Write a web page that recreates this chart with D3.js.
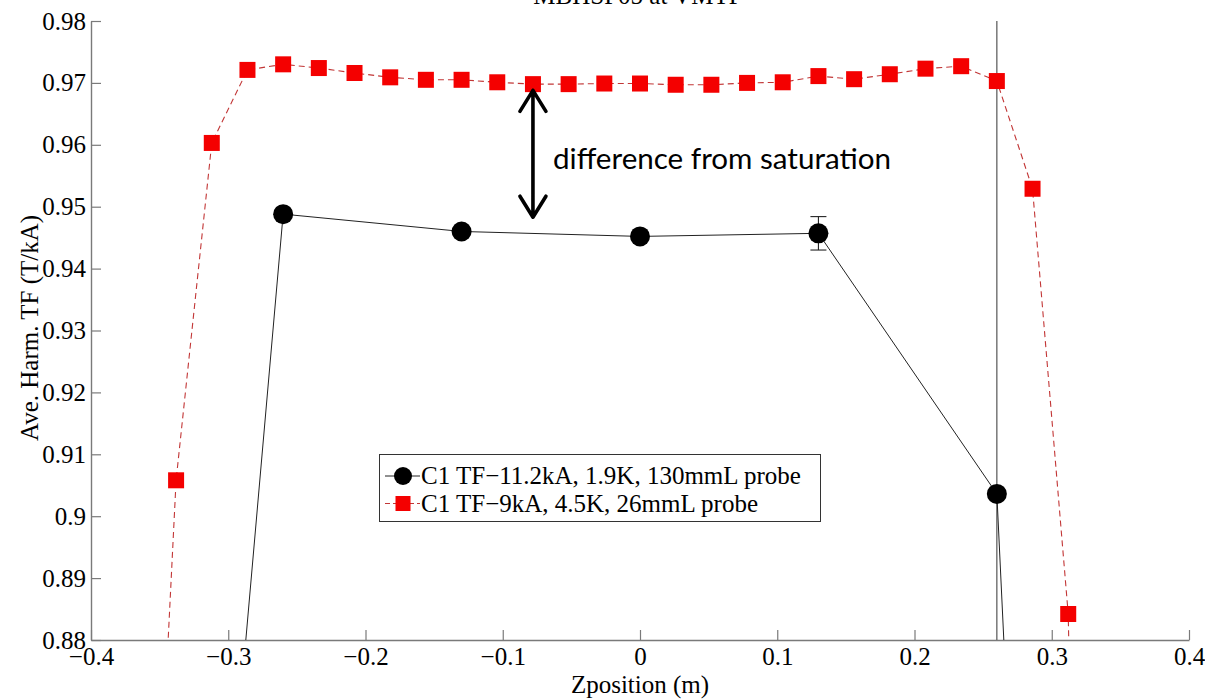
<!DOCTYPE html>
<html>
<head>
<meta charset="utf-8">
<script src="https://cdn.jsdelivr.net/npm/d3@7"></script>
<style>
  body { margin: 0; background: #fff; }
  svg { display: block; }
  .axis-label { font-family: "Liberation Serif", "Times New Roman", serif; font-size: 25px; }
</style>
</head>
<body>
<svg id="chart" width="1205" height="699"></svg>
<script>
// Long probe run (130 mm): positions along the magnet (m) and averaged harmonic TF (T/kA)
const longProbeZ   = [-0.39, -0.26, -0.13, 0.0, 0.13, 0.26, 0.39];
const longProbeTF  = [0.62, 0.9488, 0.9460, 0.9452, 0.9457, 0.9036, 0.30];
const longProbeErr = [0, 0, 0, 0, 0.0027, 0, 0];

// Short probe run (26 mm)
const shortProbeZ  = [-0.364, -0.338, -0.312, -0.286, -0.260, -0.234, -0.208, -0.182, -0.156,
                      -0.130, -0.104, -0.078, -0.052, -0.026, 0.0, 0.026, 0.052, 0.078, 0.104,
                      0.130, 0.156, 0.182, 0.208, 0.234, 0.260, 0.286, 0.312, 0.338];
const shortProbeTF = [0.79, 0.9058, 0.9603, 0.9721, 0.9730, 0.9724, 0.9716, 0.9709, 0.9705,
                      0.9705, 0.9701, 0.9698, 0.9698, 0.9699, 0.9699, 0.9697, 0.9697, 0.9700, 0.9701,
                      0.9711, 0.9706, 0.9714, 0.9723, 0.9727, 0.9703, 0.9529, 0.8842, 0.60];

// Magnet end reference line
const magnetEndZ = 0.26;

// Axis ticks and labels
const xTickValues = [-0.4, -0.3, -0.2, -0.1, 0, 0.1, 0.2, 0.3, 0.4];
const xTickLabels = ["\u22120.4", "\u22120.3", "\u22120.2", "\u22120.1", "0", "0.1", "0.2", "0.3", "0.4"];
const yTickValues = [0.88, 0.89, 0.90, 0.91, 0.92, 0.93, 0.94, 0.95, 0.96, 0.97, 0.98];
const yTickLabels = ["0.88", "0.89", "0.9", "0.91", "0.92", "0.93", "0.94", "0.95", "0.96", "0.97", "0.98"];

const legendLabels = ["C1 TF\u221211.2kA, 1.9K, 130mmL probe", "C1 TF\u22129kA, 4.5K, 26mmL probe"];
const titleText = "MBHSP05 at VMTF";
const xTitle = "Zposition (m)";
const yTitle = "Ave. Harm. TF (T/kA)";
const noteText = "difference from saturation";
// Annotation arrow spans these TF values at z = -0.078
const arrowZ = -0.078;
const arrowTF = [0.9688, 0.9483];

const serifFont = "Liberation Serif";
const svg = d3.select("#chart");

const plot = { left: 91, right: 1189, top: 21, bottom: 640 };
const x = d3.scaleLinear().domain([-0.4, 0.4]).range([plot.left, plot.right]);
const y = d3.scaleLinear().domain([0.88, 0.98]).range([plot.bottom, plot.top]);

svg.append("defs").append("clipPath").attr("id", "plotClip")
  .append("rect")
  .attr("x", plot.left).attr("y", plot.top)
  .attr("width", plot.right - plot.left).attr("height", plot.bottom - plot.top);

// Axes (ticks point inward)
const axisColor = "#7a7a7a";
const gx = svg.append("g").attr("transform", `translate(0,${plot.bottom})`)
  .call(d3.axisBottom(x).tickValues(xTickValues)
    .tickFormat((d, i) => xTickLabels[i]).tickSizeInner(-10).tickSizeOuter(0).tickPadding(7));
const gy = svg.append("g").attr("transform", `translate(${plot.left},0)`)
  .call(d3.axisLeft(y).tickValues(yTickValues)
    .tickFormat((d, i) => yTickLabels[i]).tickSizeInner(-10).tickSizeOuter(0).tickPadding(5));
[gx, gy].forEach(axisG => {
  axisG.attr("font-family", serifFont).attr("font-size", 25);
  axisG.select(".domain").attr("stroke", axisColor).attr("stroke-width", 1.4);
  axisG.selectAll(".tick line").attr("stroke", axisColor).attr("stroke-width", 1.2);
  axisG.selectAll(".tick text").attr("class", "axis-label")
    .attr("font-family", serifFont).attr("fill", "#000");
});

const data = svg.append("g").attr("clip-path", "url(#plotClip)");

// Vertical marker at the magnet end
data.append("line")
  .attr("x1", x(magnetEndZ)).attr("x2", x(magnetEndZ))
  .attr("y1", plot.top).attr("y2", plot.bottom)
  .attr("stroke", "#555").attr("stroke-width", 1.2);

// Short probe series: red dashed line with squares
const shortPts = shortProbeZ.map((z, i) => [z, shortProbeTF[i]]);
const line = d3.line().x(d => x(d[0])).y(d => y(d[1]));
data.append("path").datum(shortPts)
  .attr("d", line).attr("fill", "none")
  .attr("stroke", "#c23636").attr("stroke-width", 1.1)
  .attr("stroke-dasharray", "6,4");
const sq = 16;
data.selectAll("rect.sq").data(shortPts).join("rect").attr("class", "sq")
  .attr("x", d => x(d[0]) - sq / 2).attr("y", d => y(d[1]) - sq / 2)
  .attr("width", sq).attr("height", sq).attr("fill", "#f40000");

// Long probe series: black line, error bars, filled circles
const longPts = longProbeZ.map((z, i) => [z, longProbeTF[i], longProbeErr[i]]);
data.append("path").datum(longPts)
  .attr("d", line).attr("fill", "none")
  .attr("stroke", "#222").attr("stroke-width", 1);
const errG = data.selectAll("g.err").data(longPts.filter(d => d[2] > 0)).join("g").attr("class", "err")
  .attr("stroke", "#222").attr("stroke-width", 1.1);
errG.append("line")
  .attr("x1", d => x(d[0])).attr("x2", d => x(d[0]))
  .attr("y1", d => y(d[1] + d[2])).attr("y2", d => y(d[1] - d[2]));
errG.append("line")
  .attr("x1", d => x(d[0]) - 8).attr("x2", d => x(d[0]) + 8)
  .attr("y1", d => y(d[1] + d[2])).attr("y2", d => y(d[1] + d[2]));
errG.append("line")
  .attr("x1", d => x(d[0]) - 8).attr("x2", d => x(d[0]) + 8)
  .attr("y1", d => y(d[1] - d[2])).attr("y2", d => y(d[1] - d[2]));
data.selectAll("circle.pt").data(longPts).join("circle").attr("class", "pt")
  .attr("cx", d => x(d[0])).attr("cy", d => y(d[1])).attr("r", 10).attr("fill", "#000");

// Double-headed annotation arrow
const ax = x(arrowZ), ay1 = y(arrowTF[0]), ay2 = y(arrowTF[1]);
svg.append("path")
  .attr("d", `M${ax},${ay1}L${ax},${ay2}` +
             `M${ax - 13},${ay1 + 21}L${ax},${ay1}L${ax + 13},${ay1 + 21}` +
             `M${ax - 13},${ay2 - 21}L${ax},${ay2}L${ax + 13},${ay2 - 21}`)
  .attr("fill", "none").attr("stroke", "#000").attr("stroke-width", 3.6)
  .attr("stroke-linecap", "round").attr("stroke-linejoin", "round");

const note = svg.append("text")
  .attr("x", 553).attr("y", 169)
  .attr("font-family", "Lato, 'Open Sans', sans-serif").attr("font-size", 28)
  .attr("fill", "#000").text(noteText);
const noteW = note.node().getComputedTextLength();
note.attr("font-size", 28 * 338 / noteW);

// Legend
const lg = svg.append("g");
lg.append("rect").attr("x", 379.5).attr("y", 454.5).attr("width", 441).attr("height", 67)
  .attr("fill", "#fff").attr("stroke", "#333").attr("stroke-width", 1);
const rows = [476, 503.5];
lg.append("line").attr("x1", 385).attr("x2", 420).attr("y1", rows[0]).attr("y2", rows[0])
  .attr("stroke", "#222").attr("stroke-width", 1);
lg.append("circle").attr("cx", 403).attr("cy", rows[0]).attr("r", 9).attr("fill", "#000");
lg.append("line").attr("x1", 385).attr("x2", 420).attr("y1", rows[1]).attr("y2", rows[1])
  .attr("stroke", "#c23636").attr("stroke-width", 1).attr("stroke-dasharray", "5,3");
lg.append("rect").attr("x", 403 - 7.5).attr("y", rows[1] - 7.5).attr("width", 15).attr("height", 15)
  .attr("fill", "#f40000");
lg.selectAll("text").data(legendLabels).join("text")
  .attr("x", 421).attr("y", (d, i) => rows[i] + 8)
  .attr("font-family", serifFont).attr("font-size", 25).attr("fill", "#000")
  .text(d => d);

// Titles
svg.append("text").attr("x", 638).attr("y", 4).attr("text-anchor", "middle")
  .attr("font-family", serifFont).attr("font-size", 25).text(titleText);
svg.append("text").attr("x", 640).attr("y", 693).attr("text-anchor", "middle")
  .attr("font-family", serifFont).attr("font-size", 25).text(xTitle);
svg.append("text").attr("transform", "translate(38,328) rotate(-90)").attr("text-anchor", "middle")
  .attr("font-family", serifFont).attr("font-size", 25).text(yTitle);
</script>
</body>
</html>
